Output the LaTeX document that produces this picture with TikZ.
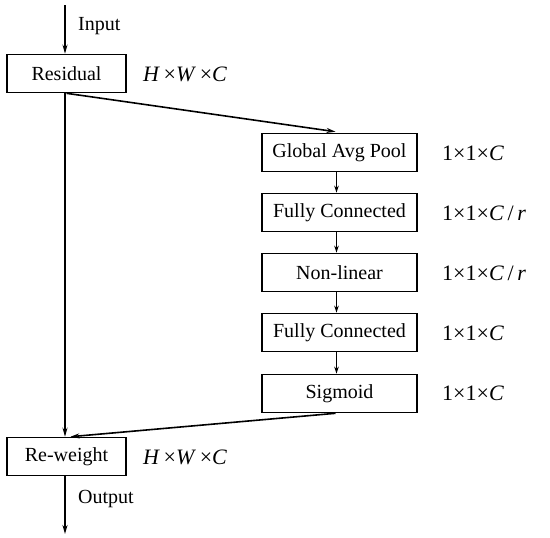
\documentclass[tikz,border=0pt]{standalone}
\usepackage{fontspec}
\setmainfont{Liberation Serif}
\usetikzlibrary{arrows.meta,calc}
\begin{document}
\begin{tikzpicture}[x=1pt,y=-1pt,
  every node/.style={font=\fontsize{20}{24}\selectfont},
  mainbox/.style={draw,line width=1.6pt,minimum width=119pt,minimum height=38pt,inner sep=0pt},
  sebox/.style={draw,line width=1.6pt,minimum width=155pt,minimum height=38pt,inner sep=0pt},
  dimlabel/.style={anchor=west,inner sep=0pt,font=\fontsize{22}{26}\selectfont},
  bigarrow/.style={line width=1.6pt,-{Stealth[length=9pt,width=5pt]}},
  smallarrow/.style={line width=1.1pt,-{Stealth[length=7pt,width=4.5pt]}}]
\useasboundingbox (0,0) rectangle (550,538);
\node[mainbox] (res) at (66.5,73.5) {Residual};
\node[mainbox] (rw) at (66.5,456.5) {Re-weight};
\node[sebox] (gap) at (339.5,152.5) {Global Avg Pool};
\node[sebox] (fc1) at (339.5,212.5) {Fully Connected};
\node[sebox] (nl) at (339.5,272.5) {Non-linear};
\node[sebox] (fc2) at (339.5,332.5) {Fully Connected};
\node[sebox] (sig) at (339.5,393.5) {Sigmoid};
\coordinate (in) at (65,5);
\coordinate (out) at (65,534);
\node[anchor=west,inner sep=0pt] (inlab) at (78,26) {Input};
\node[anchor=west,inner sep=0pt] (outlab) at (78,499) {Output};
\node[dimlabel] (d0) at (143,74) {\textit{H}\,×\textit{W}\,×\textit{C}};
\node[dimlabel] (d6) at (143,457) {\textit{H}\,×\textit{W}\,×\textit{C}};
\node[dimlabel] (d1) at (442,153) {1×1×\textit{C}};
\node[dimlabel] (d2) at (442,213) {1×1×\textit{C}\,/\,\textit{r}};
\node[dimlabel] (d3) at (442,273) {1×1×\textit{C}\,/\,\textit{r}};
\node[dimlabel] (d4) at (442,333) {1×1×\textit{C}};
\node[dimlabel] (d5) at (442,393) {1×1×\textit{C}};
\draw[bigarrow] (in) -- (res.north -| in);
\draw[bigarrow] (res.south -| in) -- (rw.north -| in);
\draw[bigarrow] (rw.south -| in) -- (out);
\draw[bigarrow] (res.south) -- ($(gap.north)+(-4,-1)$);
\draw[bigarrow] ($(sig.south)+(-4,0)$) -- ($(rw.north)+(4,0)$);
\draw[smallarrow] ($(gap.south)+(-3,0)$) -- ($(fc1.north)+(-3,0)$);
\draw[smallarrow] ($(fc1.south)+(-3,0)$) -- ($(nl.north)+(-3,0)$);
\draw[smallarrow] ($(nl.south)+(-3,0)$) -- ($(fc2.north)+(-3,0)$);
\draw[smallarrow] ($(fc2.south)+(-3,0)$) -- ($(sig.north)+(-3,0)$);
\end{tikzpicture}
\end{document}
